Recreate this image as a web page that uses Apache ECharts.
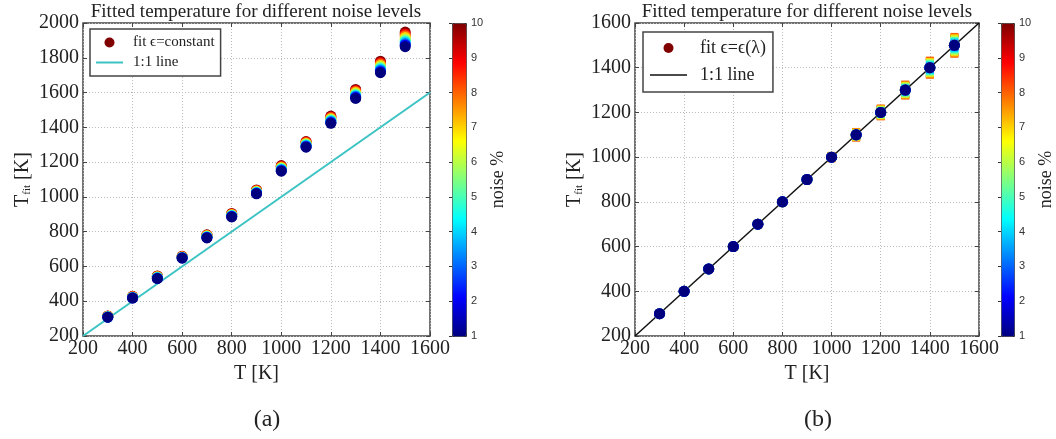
<!DOCTYPE html>
<html>
<head>
<meta charset="utf-8">
<script src="https://cdn.jsdelivr.net/npm/echarts@6/dist/echarts.min.js"></script>
<style>
html,body{margin:0;padding:0;background:#fff;}
#chart{width:1056px;height:439px;}
</style>
</head>
<body>
<div id="chart"></div>
<script>
// ---------- data ----------
const temps = [300, 400, 500, 600, 700, 800, 900, 1000, 1100, 1200, 1300, 1400, 1500];
const noiseLevels = [1, 2, 3, 4, 5, 6, 7, 8, 9, 10];
const oneToOne = [200, 1600];

// (a) fitted T with constant emissivity, one row per noise level (1..10)
const fitConst = [
  [308, 418, 530, 648, 764, 885, 1018, 1148, 1286, 1423, 1566, 1714, 1864],
  [308, 419, 531, 649, 766, 887, 1020, 1151, 1289, 1427, 1571, 1720, 1872],
  [309, 420, 533, 650, 768, 889, 1023, 1155, 1293, 1432, 1577, 1727, 1880],
  [309, 421, 535, 651, 770, 891, 1025, 1158, 1296, 1436, 1582, 1734, 1889],
  [310, 422, 537, 652, 772, 893, 1027, 1162, 1300, 1441, 1588, 1741, 1898],
  [311, 423, 539, 653, 774, 895, 1030, 1165, 1304, 1445, 1594, 1748, 1907],
  [312, 424, 540, 654, 776, 898, 1032, 1169, 1307, 1450, 1600, 1756, 1917],
  [313, 425, 542, 655, 778, 900, 1035, 1172, 1311, 1455, 1606, 1764, 1927],
  [314, 427, 544, 657, 780, 902, 1037, 1176, 1315, 1460, 1612, 1772, 1937],
  [315, 428, 545, 658, 782, 905, 1040, 1180, 1318, 1465, 1618, 1780, 1948]
];

// (b) fitted T with emissivity eps(lambda) (same for all noise levels)
const fitLambda = [300, 400, 500, 600, 700, 800, 900, 1000, 1100, 1200, 1300, 1400, 1500];
// (b) error bar half-widths, one row per noise level (1..10)
const errLambda = [
  [0, 1, 1, 1, 1, 2, 2, 2, 3, 4, 5, 5, 6],
  [1, 1, 2, 2, 3, 3, 4, 5, 6, 8, 9, 11, 13],
  [1, 2, 2, 3, 4, 5, 6, 7, 9, 11, 14, 17, 19],
  [2, 2, 3, 4, 5, 6, 8, 9, 13, 15, 19, 22, 25],
  [2, 3, 4, 5, 6, 8, 9, 11, 16, 19, 23, 28, 31],
  [2, 3, 5, 6, 8, 9, 11, 14, 19, 23, 28, 33, 38],
  [3, 4, 5, 7, 9, 11, 13, 16, 22, 26, 32, 38, 44],
  [3, 4, 6, 8, 10, 12, 15, 18, 25, 30, 37, 44, 50],
  [3, 4, 5, 7, 9, 11, 14, 16, 23, 27, 33, 40, 45],
  [2, 3, 5, 6, 8, 10, 12, 14, 20, 24, 30, 35, 40]
];

const titleText = 'Fitted temperature for different noise levels';
const legendA = ['fit ϵ=constant', '1:1 line'];
const legendB = ['fit ϵ=ϵ(λ)', '1:1 line '];
const jet = ['#00007F', '#0000FF', '#007FFF', '#00FFFF', '#7FFF7F', '#FFFF00', '#FF7F00', '#FF0000', '#7F0000'];

// ---------- build series data (noise 10 drawn first, noise 1 on top) ----------
const order = noiseLevels.slice().reverse();
const scatterA = [];
order.forEach(n => temps.forEach((t, i) => scatterA.push([t, fitConst[n - 1][i], n])));
const errB = [];
order.forEach(n => temps.forEach((t, i) => errB.push([t, fitLambda[i], errLambda[n - 1][i], n])));
const scatterB = [];
order.forEach(n => temps.forEach((t, i) => scatterB.push([t, fitLambda[i], 0, n])));
const lineData = [[oneToOne[0], oneToOne[0]], [oneToOne[1], oneToOne[1]]];

// ---------- styles ----------
const SERIF = 'Liberation Serif';
const tickFont = { fontFamily: SERIF, fontSize: 20, color: '#222', formatter: v => String(v) };
const frame = '#444';
const splitLine = { show: true, lineStyle: { type: [1, 2], color: '#bbb', width: 1 } };

const grids = [
  { left: 83, top: 23, width: 347, height: 313 },
  { left: 635, top: 23, width: 344, height: 313 },
  { left: 452, top: 23, width: 14, height: 313 },
  { left: 1001, top: 23, width: 13, height: 313 }
].map(g => Object.assign({ show: true, borderColor: frame, borderWidth: 1.5, backgroundColor: 'transparent' }, g));
grids[2].show = false; grids[3].show = false;

function xAxes(gi) {
  return [
    { type: 'value', gridIndex: gi, min: 200, max: 1600, interval: 200, position: 'bottom',
      axisLine: { show: false }, axisTick: { inside: true, length: 4, lineStyle: { color: frame } },
      axisLabel: Object.assign({ margin: 3 }, tickFont), splitLine: splitLine,
      name: 'T [K]', nameLocation: 'middle', nameGap: 24,
      nameTextStyle: { fontFamily: SERIF, fontSize: 20, color: '#222' } },
    { type: 'value', gridIndex: gi, min: 200, max: 1600, interval: 200, position: 'top',
      axisLine: { show: false }, axisTick: { inside: true, length: 4, lineStyle: { color: frame } },
      axisLabel: { show: false }, splitLine: { show: false } }
  ];
}
function yAxes(gi, max) {
  return [
    { type: 'value', gridIndex: gi, min: 200, max: max, interval: 200, position: 'left',
      axisLine: { show: false }, axisTick: { inside: true, length: 4, lineStyle: { color: frame } },
      axisLabel: Object.assign({ margin: 4 }, tickFont), splitLine: splitLine,
      name: '{t|T}{s|fit} {t|[K]}', nameLocation: 'middle', nameGap: 50, nameRotate: 90,
      nameTextStyle: { fontFamily: SERIF, fontSize: 20, color: '#222',
        rich: { t: { fontFamily: SERIF, fontSize: 20, color: '#222' },
                s: { fontFamily: SERIF, fontSize: 11, color: '#222', verticalAlign: 'bottom' } } } },
    { type: 'value', gridIndex: gi, min: 200, max: max, interval: 200, position: 'right',
      axisLine: { show: false }, axisTick: { inside: true, length: 4, lineStyle: { color: frame } },
      axisLabel: { show: false }, splitLine: { show: false } }
  ];
}
function cbAxes(gi) {
  return {
    x: { type: 'value', gridIndex: gi, min: 0, max: 1, show: false },
    y: { type: 'value', gridIndex: gi, min: 1, max: 10, interval: 1, position: 'right', z: 10,
      axisLine: { show: false }, axisTick: { inside: true, length: 3, lineStyle: { color: '#333' } },
      axisLabel: { margin: 5, fontFamily: 'Liberation Sans', fontSize: 11, color: '#333' },
      splitLine: { show: false },
      name: 'noise %', nameLocation: 'middle', nameRotate: 90, nameGap: 23,
      nameTextStyle: { fontFamily: SERIF, fontSize: 18, color: '#222' } }
  };
}
const cbA = cbAxes(2), cbB = cbAxes(3);

function errRender(params, api) {
  const x = api.value(0), y = api.value(1), e = api.value(2);
  const top = api.coord([x, y + e]);
  const bot = api.coord([x, y - e]);
  const color = api.visual('color');
  const st = { stroke: color, lineWidth: 3 };
  const cs = { stroke: color, lineWidth: 2.5 };
  return { type: 'group', children: [
    { type: 'line', shape: { x1: top[0], y1: top[1], x2: bot[0], y2: bot[1] }, style: st },
    { type: 'line', shape: { x1: top[0] - 4, y1: top[1], x2: top[0] + 4, y2: top[1] }, style: cs },
    { type: 'line', shape: { x1: bot[0] - 4, y1: bot[1], x2: bot[0] + 4, y2: bot[1] }, style: cs }
  ] };
}

// thin horizontal bar icons for the line legend entries (padded bbox keeps them thin)
const lineIconA = 'path://M0,0L27,0L27,0.01L0,0.01Z M0,4L27,4L27,6L0,6Z M0,9.99L27,9.99L27,10L0,10Z';
const lineIconB = 'path://M0,0L37,0L37,0.01L0,0.01Z M0,4.3L37,4.3L37,5.7L0,5.7Z M0,9.99L37,9.99L37,10L0,10Z';

const option = {
  animation: false,
  backgroundColor: '#fff',
  grid: grids,
  xAxis: [...xAxes(0), ...xAxes(1), cbA.x, cbB.x],
  yAxis: [...yAxes(0, 2000), ...yAxes(1, 1600), cbA.y, cbB.y],
  visualMap: [
    { type: 'continuous', seriesIndex: [0], dimension: 2, min: 1, max: 10,
      inRange: { color: jet }, orient: 'vertical', left: 452, top: 23,
      itemWidth: 14, itemHeight: 313, padding: 0, calculable: false, text: null,
      borderColor: '#333', borderWidth: 1, hoverLink: false },
    { type: 'continuous', seriesIndex: [2, 4], dimension: 3, min: 1, max: 10,
      inRange: { color: jet }, orient: 'vertical', left: 1001, top: 23,
      itemWidth: 13, itemHeight: 313, padding: 0, calculable: false, text: null,
      borderColor: '#333', borderWidth: 1, hoverLink: false }
  ],
  legend: [
    { data: [{ name: legendA[0], icon: 'circle' }, { name: legendA[1], icon: lineIconA }],
      orient: 'vertical', left: 90, top: 29, padding: [6, 6, 6, 6], itemGap: 5,
      itemWidth: 27, itemHeight: 10, borderColor: '#444', borderWidth: 1.5, borderRadius: 0,
      backgroundColor: '#fff',
      textStyle: { fontFamily: SERIF, fontSize: 15, color: '#222', padding: [0, 0, 0, 5] } },
    { data: [{ name: legendB[0], icon: 'circle' }, { name: legendB[1], icon: lineIconB }],
      orient: 'vertical', left: 643, top: 32, padding: [7, 7, 8, 7], itemGap: 9,
      itemWidth: 37, itemHeight: 10, borderColor: '#444', borderWidth: 1.5, borderRadius: 0,
      backgroundColor: '#fff',
      textStyle: { fontFamily: SERIF, fontSize: 18, color: '#222', padding: [0, 0, 0, 8] } }
  ],
  series: [
    { name: legendA[0], type: 'scatter', xAxisIndex: 0, yAxisIndex: 0, data: scatterA,
      symbolSize: 11, itemStyle: { color: '#800000', opacity: 1 }, z: 3 },
    { name: legendA[1], type: 'line', xAxisIndex: 0, yAxisIndex: 0, data: lineData,
      symbol: 'none', lineStyle: { color: '#3cc3c3', width: 2 }, itemStyle: { color: '#3cc3c3' }, z: 2 },
    { name: 'errB', type: 'custom', xAxisIndex: 2, yAxisIndex: 2, data: errB,
      encode: { x: 0, y: 1 }, renderItem: errRender, z: 2 },
    { name: legendB[1], type: 'line', xAxisIndex: 2, yAxisIndex: 2, data: lineData,
      symbol: 'none', lineStyle: { color: '#111', width: 1.5 }, itemStyle: { color: '#111' }, z: 3 },
    { name: legendB[0], type: 'scatter', xAxisIndex: 2, yAxisIndex: 2, data: scatterB,
      symbolSize: 11, itemStyle: { color: '#800000', opacity: 1 }, z: 4 }
  ],
  graphic: [
    { type: 'text', x: 256, y: 12, style: { text: titleText, font: '19px "Liberation Serif"', fill: '#222', textAlign: 'center', textVerticalAlign: 'middle' } },
    { type: 'text', x: 807, y: 12, style: { text: titleText, font: '19px "Liberation Serif"', fill: '#222', textAlign: 'center', textVerticalAlign: 'middle' } },
    { type: 'text', x: 267, y: 420, style: { text: '(a)', font: '24px "Liberation Serif"', fill: '#222', textAlign: 'center', textVerticalAlign: 'middle' } },
    { type: 'text', x: 818, y: 420, style: { text: '(b)', font: '24px "Liberation Serif"', fill: '#222', textAlign: 'center', textVerticalAlign: 'middle' } }
  ]
};

const chart = echarts.init(document.getElementById('chart'), null, { renderer: 'canvas' });
chart.setOption(option);
</script>
</body>
</html>
